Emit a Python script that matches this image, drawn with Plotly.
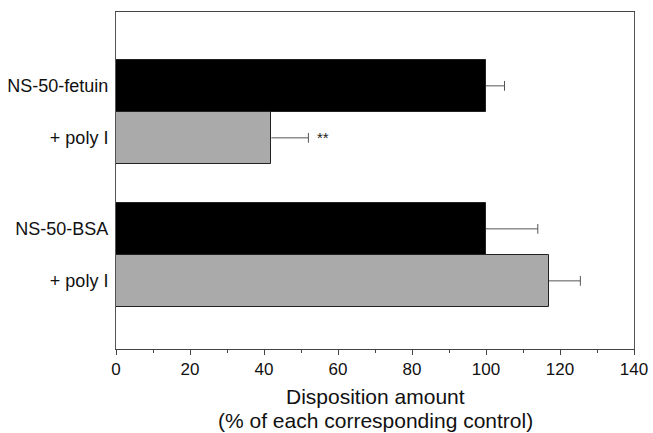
import plotly.graph_objects as go

# Data
labels = ["NS-50-fetuin", "+ poly I", "NS-50-BSA", "+ poly I"]
values = [100, 42, 100, 117]
errors = [5, 10, 14, 8.5]
signif = ["", "**", "", ""]
colors = ["#000000", "#aaaaaa", "#000000", "#aaaaaa"]
x_ticks = [0, 20, 40, 60, 80, 100, 120, 140]
x_title = ["Disposition amount", "(% of each corresponding control)"]

# Group layout: two bars per group, gap between groups
group_gap = 0.75
ypos = []
for i in range(len(labels)):
    g, k = divmod(i, 2)
    ypos.append(g * (2 + group_gap) + k)

fig = go.Figure()
fig.add_trace(go.Bar(
    x=values, y=ypos, orientation="h", width=1.0,
    marker=dict(color=colors, line=dict(color="#222222", width=1)),
    showlegend=False, hoverinfo="skip",
))

# One-sided (positive) error bars: stem + end cap
ex, ey = [], []
for y, v, e in zip(ypos, values, errors):
    ex += [v, v + e, None]
    ey += [y, y, None]
fig.add_trace(go.Scatter(
    x=ex, y=ey, mode="lines", line=dict(color="#555555", width=1),
    showlegend=False, hoverinfo="skip",
))
fig.add_trace(go.Scatter(
    x=[v + e for v, e in zip(values, errors)], y=ypos, mode="markers",
    marker=dict(symbol="line-ns-open", size=7, color="#555555",
                line=dict(color="#555555", width=1)),
    showlegend=False, hoverinfo="skip",
))

for y, v, e, s in zip(ypos, values, errors, signif):
    if s:
        fig.add_annotation(x=v + e, y=y, text=s, showarrow=False,
                           xanchor="left", xshift=7,
                           font=dict(size=15, color="#222222"))

# x-axis title as two lines (tight line spacing as in the reference)
for line, py in zip(x_title, [-0.142, -0.211]):
    fig.add_annotation(x=0.5, y=py, xref="paper", yref="paper", text=line,
                       showarrow=False, xanchor="center", yanchor="middle",
                       font=dict(size=21, color="#111111"))

fig.update_layout(
    template="none",
    width=653, height=433,
    margin=dict(l=116, r=19, t=12, b=84),
    paper_bgcolor="white", plot_bgcolor="white",
    font=dict(family="Liberation Sans, Arial, sans-serif", size=17, color="#111111"),
    bargap=0,
)
fig.update_xaxes(
    range=[0, 140], tickvals=x_ticks, ticks="outside", ticklen=5,
    tickcolor="#444444", showline=True, linecolor="#444444", linewidth=1,
    mirror=True, showgrid=False, zeroline=False, automargin=False,
    tickfont=dict(size=17),
    minor=dict(dtick=10, ticks="outside", ticklen=3, tickcolor="#444444"),
)
fig.update_yaxes(
    range=[5.06, -1.42], tickvals=ypos, ticktext=labels, ticks="",
    showline=True, linecolor="#555555", linewidth=1, mirror=True,
    showgrid=False, zeroline=False, automargin=False, tickfont=dict(size=18),
    ticklabelstandoff=3,
)

fig.write_html("out.html", config={"displayModeBar": False},
               post_script="document.body.style.margin='0';document.body.style.overflow='hidden';")
